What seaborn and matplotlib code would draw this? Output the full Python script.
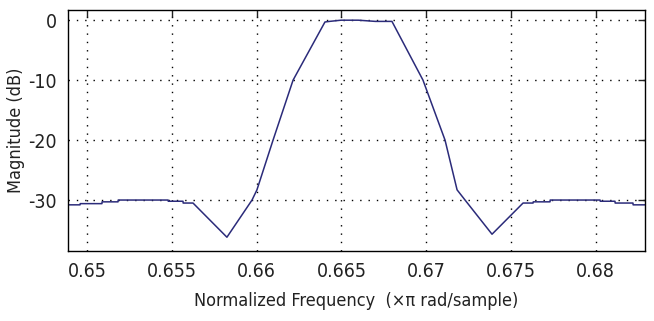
import matplotlib
matplotlib.use("Agg")
import matplotlib.pyplot as plt
import seaborn as sns
import pandas as pd

freq = [0.64888, 0.64959, 0.64960, 0.65088, 0.65089, 0.65183, 0.65184, 0.65478, 0.65479,
        0.65566, 0.65567, 0.65625, 0.65825, 0.65973, 0.66002, 0.66097, 0.66215, 0.66403,
        0.66430, 0.66498, 0.66600, 0.66700, 0.66798, 0.66981, 0.67111, 0.67182, 0.67229,
        0.67388, 0.67571, 0.67630, 0.67631, 0.67730, 0.67731, 0.68025, 0.68026, 0.68113,
        0.68114, 0.68219, 0.68220, 0.68290]
mag_db = [-30.8, -30.8, -30.6, -30.6, -30.3, -30.3, -30.0, -30.0, -30.2,
          -30.2, -30.5, -30.5, -36.2, -30.0, -28.3, -20.0, -10.0, -0.3,
          -0.2, 0.0, 0.0, -0.2, -0.2, -10.0, -20.0, -28.3, -30.0,
          -35.7, -30.5, -30.5, -30.3, -30.3, -30.0, -30.0, -30.2, -30.2,
          -30.5, -30.5, -30.8, -30.8]
xticks = [0.65, 0.655, 0.66, 0.665, 0.67, 0.675, 0.68]
xtick_labels = ["0.65", "0.655", "0.66", "0.665", "0.67", "0.675", "0.68"]
yticks = [-30, -20, -10, 0]

df = pd.DataFrame({"f": freq, "m": mag_db})

sns.set_style("white")
plt.rcParams['font.family'] = ['DejaVu Sans']
plt.rcParams['font.stretch'] = 'condensed'
plt.rcParams['axes.unicode_minus'] = False

fig = plt.figure(figsize=(6.54, 3.21), dpi=100)
ax = fig.add_axes([68/654, 70/321, 577/654, 241/321])
sns.lineplot(data=df, x="f", y="m", ax=ax, color="#2b2b7a", linewidth=1.1, sort=False)

ax.set_xlim(0.64888, 0.68290)
ax.set_ylim(-38.5, 1.7)
ax.set_xticks(xticks)
ax.set_xticklabels(xtick_labels)
ax.set_yticks(yticks)
ax.grid(True, linestyle=(0, (1, 5)), color="black", linewidth=1.0)
for s in ax.spines.values():
    s.set_color("black")
    s.set_linewidth(1.0)
ax.tick_params(direction="in", length=5, width=1, top=True, right=True,
               labelsize=14, colors="#222222", pad=8)
ax.set_xlabel("Normalized Frequency  (\u00d7\u03c0 rad/sample)", fontsize=13, labelpad=8, color="#222222")
ax.set_ylabel("Magnitude (dB)", fontsize=13, labelpad=2, color="#222222")
fig.savefig("out.png", dpi=100, facecolor="white")
